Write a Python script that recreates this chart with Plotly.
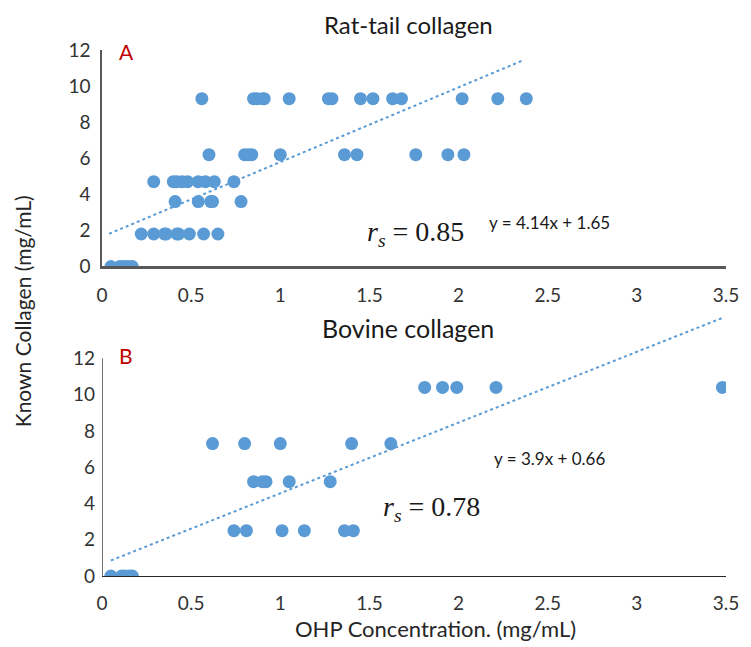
import plotly.graph_objects as go

# ---- data ----
rat_x = [0.05, 0.10, 0.12, 0.145, 0.17,
         0.22, 0.29, 0.35, 0.36, 0.42, 0.43, 0.49, 0.57, 0.65,
         0.41, 0.54, 0.61, 0.62, 0.78,
         0.29, 0.40, 0.42, 0.45, 0.48, 0.54, 0.58, 0.63, 0.74,
         0.60, 0.80, 0.82, 0.84, 1.00, 1.36, 1.43, 1.76, 1.94, 2.03,
         0.56, 0.85, 0.87, 0.90, 0.91, 1.05, 1.27, 1.29, 1.45, 1.52, 1.63, 1.68, 2.02, 2.22, 2.38]
rat_y = [0, 0, 0, 0, 0,
         1.8, 1.8, 1.8, 1.8, 1.8, 1.8, 1.8, 1.8, 1.8,
         3.6, 3.6, 3.6, 3.6, 3.6,
         4.7, 4.7, 4.7, 4.7, 4.7, 4.7, 4.7, 4.7, 4.7,
         6.2, 6.2, 6.2, 6.2, 6.2, 6.2, 6.2, 6.2, 6.2, 6.2,
         9.3, 9.3, 9.3, 9.3, 9.3, 9.3, 9.3, 9.3, 9.3, 9.3, 9.3, 9.3, 9.3, 9.3, 9.3]

bov_x = [0.05, 0.11, 0.13, 0.155, 0.17,
         0.74, 0.81, 1.01, 1.135, 1.36, 1.41,
         0.85, 0.90, 0.92, 1.05, 1.28,
         0.62, 0.80, 1.00, 1.40, 1.62,
         1.81, 1.91, 1.99, 2.21, 3.48]
bov_y = [0, 0, 0, 0, 0,
         2.5, 2.5, 2.5, 2.5, 2.5, 2.5,
         5.2, 5.2, 5.2, 5.2, 5.2,
         7.3, 7.3, 7.3, 7.3, 7.3,
         10.4, 10.4, 10.4, 10.4, 10.4]

rat_fit = (4.14, 1.65)
rat_fit_x = [0.04, 2.36]
bov_fit = (3.9, 0.66)
bov_fit_x = [0.05, 3.48]

x_ticks = [0, 0.5, 1, 1.5, 2, 2.5, 3, 3.5]
x_ticktext = ["0", "0.5", "1", "1.5", "2", "2.5", "3", "3.5"]
y_ticks = [0, 2, 4, 6, 8, 10, 12]

BLUE = "#5b9bd5"
TXT = "#333333"
FONT = "Lato"
W, H = 743, 639          # page body adds an 8px margin
L, R, T, B = 94, 23, 30, 71

fig = go.Figure()
fig.add_trace(go.Scatter(x=rat_x, y=rat_y, mode="markers", xaxis="x", yaxis="y",
                         marker=dict(color=BLUE, size=13), showlegend=False))
fig.add_trace(go.Scatter(x=rat_fit_x, y=[rat_fit[0] * v + rat_fit[1] for v in rat_fit_x],
                         mode="lines", xaxis="x", yaxis="y",
                         line=dict(color=BLUE, width=2, dash="dot"), showlegend=False))
fig.add_trace(go.Scatter(x=bov_x, y=bov_y, mode="markers", xaxis="x2", yaxis="y2",
                         marker=dict(color=BLUE, size=13), showlegend=False))
fig.add_trace(go.Scatter(x=bov_fit_x, y=[bov_fit[0] * v + bov_fit[1] for v in bov_fit_x],
                         mode="lines", xaxis="x2", yaxis="y2",
                         line=dict(color=BLUE, width=2, dash="dot"), showlegend=False))

xcommon = dict(range=[0, 3.5], tickvals=x_ticks, ticktext=x_ticktext, showgrid=False,
               zeroline=False, showline=True, ticks="",
               tickfont=dict(family=FONT, size=19, color=TXT), ticklabelstandoff=10)
ycommon = dict(tickvals=y_ticks, showgrid=False, zeroline=False, ticks="",
               tickfont=dict(family=FONT, size=19, color=TXT), ticklabelstandoff=6)

fig.update_layout(
    width=W, height=H,
    margin=dict(l=L, r=R, t=T, b=B),
    plot_bgcolor="white", paper_bgcolor="white",
    xaxis=dict(domain=[0, 1], anchor="y", linecolor="#595959", linewidth=2.5, **xcommon),
    yaxis=dict(domain=[0.5753, 0.9777], anchor="x", range=[0, 12],
               showline=True, linecolor="#595959", linewidth=1.5, **ycommon),
    xaxis2=dict(domain=[0, 1], anchor="y2", linecolor="#262626", linewidth=1.3, **xcommon),
    yaxis2=dict(domain=[0, 0.4888], anchor="x2", range=[0, 14.5], showline=False, **ycommon),
)

# y-axis line of lower panel (only from 0 to 12)
fig.add_shape(type="line", xref="x2", yref="y2", x0=0, x1=0, y0=0, y1=12,
              line=dict(color="#262626", width=1.3))

# annotations placed in reference pixel coordinates (page coords)
ann = [
    dict(text="Rat-tail collagen", px=409, py=24, size=24, color="#1a1a1a", family=FONT),
    dict(text="Bovine collagen", px=409, py=328, size=25, color="#1a1a1a", family=FONT),
    dict(text="OHP Concentration. (mg/mL)", px=437, py=628, size=22, color="#262626", family=FONT),
    dict(text="Known Collagen (mg/mL)", px=22, py=311, size=21, color="#262626", family=FONT, angle=-90),
    dict(text="A", px=127, py=51, size=21, color="#c00000", family=FONT),
    dict(text="B", px=126, py=355, size=21, color="#c00000", family=FONT),
    dict(text="<i>r</i><sub><i>s</i></sub> = 0.85", px=417, py=234, size=28, color="#1a1a1a",
         family="Liberation Serif"),
    dict(text="y = 4.14x + 1.65", px=551, py=222, size=17, color="#1a1a1a", family=FONT),
    dict(text="<i>r</i><sub><i>s</i></sub> = 0.78", px=433, py=508, size=28, color="#1a1a1a",
         family="Liberation Serif"),
    dict(text="y = 3.9x + 0.66", px=551, py=458, size=17, color="#1a1a1a", family=FONT),
]
pw, ph = W - L - R, H - T - B
annotations = []
for a in ann:
    fx, fy = a["px"] - 8, a["py"] - 8
    annotations.append(dict(
        text=a["text"], xref="paper", yref="paper",
        x=(fx - L) / pw, y=(H - B - fy) / ph,
        xanchor="center", yanchor="middle", showarrow=False,
        textangle=a.get("angle", 0),
        font=dict(family=a["family"], size=a["size"], color=a["color"]),
    ))
fig.update_layout(annotations=annotations)

fig.write_html("out.html")
